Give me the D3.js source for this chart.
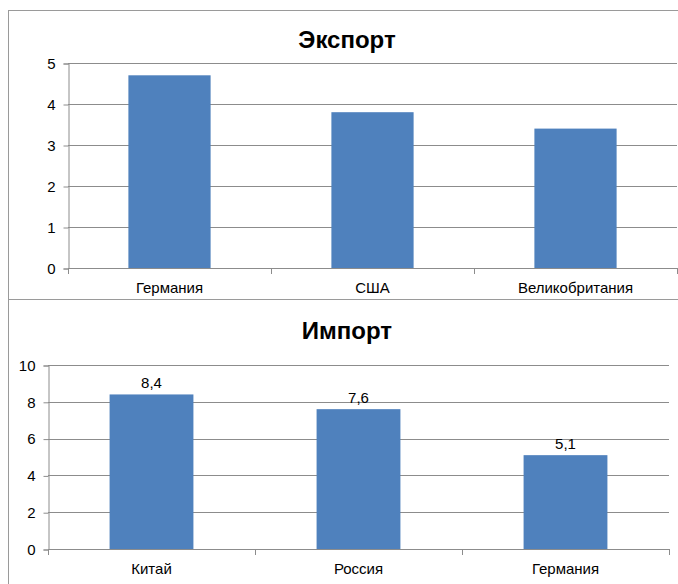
<!DOCTYPE html>
<meta charset="utf-8">
<script src="https://d3js.org/d3.v7.min.js"></script>
<style>
  body { margin: 0; background: #fff; }
  text { font-family: "Liberation Sans Narrow", "Liberation Sans", Arial, sans-serif; fill: #000; }
</style>
<div id="my_dataviz"></div>
<script>

// data
var exportCountries = ["Германия", "США", "Великобритания"];
var exportValues = [4.7, 3.8, 3.4];
var exportTicks = [0, 1, 2, 3, 4, 5];

var importCountries = ["Китай", "Россия", "Германия"];
var importValues = [8.4, 7.6, 5.1];
var importTicks = [0, 2, 4, 6, 8, 10];

var W = 678, H = 584;
var barColor = "#4f81bd", gridColor = "#8c8c8c";

var svg = d3.select("#my_dataviz")
  .append("svg")
    .attr("width", W)
    .attr("height", H);

// draws one Excel-like column chart inside a framed box
function drawChart(opt) {
  var g = svg.append("g");

  // chart frame
  g.append("rect")
    .attr("x", 8.5).attr("y", opt.boxTop + 0.5)
    .attr("width", W + 20).attr("height", opt.boxHeight)
    .attr("fill", "#fff")
    .attr("stroke", "#9a9a9a");

  g.append("text")
    .attr("x", 347).attr("y", opt.titleY)
    .attr("text-anchor", "middle")
    .attr("font-weight", "bold")
    .attr("font-size", "24px")
    .text(opt.title);

  var x = d3.scaleBand()
    .domain(opt.cats)
    .range([opt.left, opt.right])
    .paddingInner(0.595)
    .paddingOuter(0.2975);

  var y = d3.scaleLinear()
    .domain([0, d3.max(opt.ticks)])
    .range([opt.bottom, opt.top]);

  // gridlines
  g.selectAll(".grid")
    .data(opt.ticks)
    .enter().append("line")
      .attr("x1", opt.left).attr("x2", opt.right)
      .attr("y1", function(d) { return Math.round(y(d)) + 0.5; })
      .attr("y2", function(d) { return Math.round(y(d)) + 0.5; })
      .attr("stroke", gridColor);

  // y axis
  var yAxis = g.append("g")
    .attr("transform", "translate(" + (opt.left + 0.5) + ",0.5)")
    .call(d3.axisLeft(y).tickValues(opt.ticks).tickFormat(d3.format("d"))
      .tickSize(5).tickPadding(8));
  yAxis.selectAll("path, line").attr("stroke", gridColor);
  yAxis.selectAll("text").attr("font-size", "15px")
    .attr("font-family", "\"Liberation Sans\", Arial, sans-serif");

  // bars
  g.selectAll(".bar")
    .data(opt.values)
    .enter().append("rect")
      .attr("x", function(d, i) { return x(opt.cats[i]); })
      .attr("y", function(d) { return y(d); })
      .attr("width", x.bandwidth())
      .attr("height", function(d) { return opt.bottom - y(d); })
      .attr("fill", barColor);

  // x axis with ticks at category boundaries
  var step = x.step();
  var bounds = d3.range(opt.cats.length + 1).map(function(i) { return opt.left + i * step; });
  g.append("line")
    .attr("x1", opt.left).attr("x2", opt.right)
    .attr("y1", opt.bottom + 0.5).attr("y2", opt.bottom + 0.5)
    .attr("stroke", gridColor);
  g.selectAll(".xtick")
    .data(bounds)
    .enter().append("line")
      .attr("x1", function(d) { return Math.round(d) + 0.5; })
      .attr("x2", function(d) { return Math.round(d) + 0.5; })
      .attr("y1", opt.bottom).attr("y2", opt.bottom + 6)
      .attr("stroke", gridColor);

  g.selectAll(".xlabel")
    .data(opt.cats)
    .enter().append("text")
      .attr("x", function(d) { return x(d) + x.bandwidth() / 2; })
      .attr("y", opt.bottom + 25)
      .attr("text-anchor", "middle")
      .attr("font-size", "15px")
      .text(function(d) { return d; });

  if (opt.labels) {
    g.selectAll(".vlabel")
      .data(opt.values)
      .enter().append("text")
        .attr("x", function(d, i) { return x(opt.cats[i]) + x.bandwidth() / 2; })
        .attr("y", function(d) { return y(d) - 6; })
        .attr("text-anchor", "middle")
        .attr("font-size", "15px")
        .text(function(d) { return String(d).replace(".", ","); });
  }
}

drawChart({
  title: "Экспорт", cats: exportCountries, values: exportValues, ticks: exportTicks,
  boxTop: 10, boxHeight: 289, titleY: 48,
  left: 68, right: 677, top: 63, bottom: 268, labels: false
});

drawChart({
  title: "Импорт", cats: importCountries, values: importValues, ticks: importTicks,
  boxTop: 299, boxHeight: 300, titleY: 339,
  left: 48, right: 669, top: 365, bottom: 549, labels: true
});

</script>
